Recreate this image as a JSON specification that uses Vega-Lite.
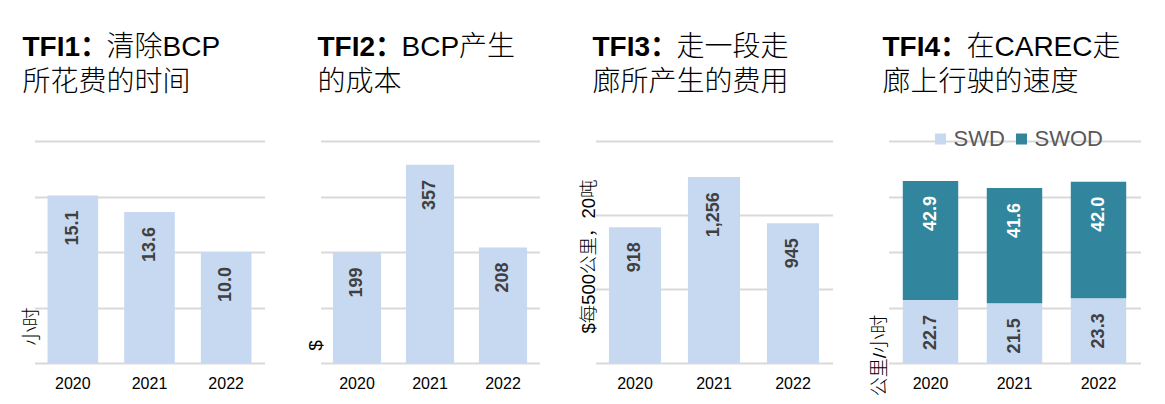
{
  "$schema": "https://vega.github.io/schema/vega-lite/v6.json",
  "background": "white",
  "padding": {"left": 22.5, "top": 34, "right": 0, "bottom": 0},
  "spacing": 56,
  "bounds": "flush",
  "config": {
    "view": {"stroke": null},
    "font": "Liberation Sans, Noto Sans CJK SC",
    "axisX": {"title": null, "labelAngle": 0, "labelFontSize": 16, "labelColor": "#000000", "domain": false, "ticks": false, "labelPadding": 12, "grid": false, "labelFont": "Liberation Sans"},
    "axisY": {"labels": false, "ticks": false, "domain": false, "grid": true, "gridColor": "#d9d9d9", "gridWidth": 2, "titleAngle": -90, "titleAlign": "center", "titleBaseline": "middle", "titleFontSize": 19, "titleFontWeight": 300, "titleColor": "#000000"},
    "title": {"anchor": "start", "frame": "group", "fontSize": 28, "fontWeight": "bold", "color": "#000000", "subtitleFontSize": 28, "subtitleFontWeight": 300, "subtitleColor": "#000000", "subtitlePadding": -28, "subtitleLineHeight": 35, "offset": 44},
    "text": {"font": "Liberation Sans"}
  },
  "hconcat": [
    {
      "width": 230, "height": 222,
      "title": {"text": "TFI1：", "subtitle": ["\u200b　　　清除BCP", "所花费的时间"], "dx": -12},
      "data": {"values": [
        {"year": "2020", "value": 15.1},
        {"year": "2021", "value": 13.6},
        {"year": "2022", "value": 10.0}
      ]},
      "encoding": {
        "x": {"field": "year", "type": "ordinal", "scale": {"paddingInner": 0.34, "paddingOuter": 0.17}},
        "y": {"field": "value", "type": "quantitative", "scale": {"domain": [0, 20], "nice": false}, "axis": {"title": "小时", "values": [0, 5, 10, 15, 20], "titleX": -3, "titleY": 185}}
      },
      "layer": [
        {"mark": {"type": "bar", "color": "#C6D9F0"}},
        {"mark": {"type": "text", "angle": -90, "align": "right", "baseline": "middle", "dx": -15, "fontWeight": "bold", "fontSize": 18, "color": "#404040"},
         "encoding": {"text": {"field": "value", "type": "quantitative", "format": ".1f"}}}
      ]
    },
    {
      "width": 219, "height": 222,
      "title": {"text": "TFI2：", "subtitle": ["\u200b　　　BCP产生", "的成本"], "dx": -3},
      "data": {"values": [
        {"year": "2020", "value": 199},
        {"year": "2021", "value": 357},
        {"year": "2022", "value": 208}
      ]},
      "encoding": {
        "x": {"field": "year", "type": "ordinal", "scale": {"paddingInner": 0.34, "paddingOuter": 0.17}},
        "y": {"field": "value", "type": "quantitative", "scale": {"domain": [0, 400], "nice": false}, "axis": {"title": "$", "values": [0, 100, 200, 300, 400], "titleX": -5, "titleY": 204}}
      },
      "layer": [
        {"mark": {"type": "bar", "color": "#C6D9F0"}},
        {"mark": {"type": "text", "angle": -90, "align": "right", "baseline": "middle", "dx": -15, "fontWeight": "bold", "fontSize": 18, "color": "#404040"},
         "encoding": {"text": {"field": "value", "type": "quantitative", "format": "d"}}}
      ]
    },
    {
      "width": 237, "height": 222,
      "title": {"text": "TFI3：", "subtitle": ["\u200b　　　走一段走", "廊所产生的费用"], "dx": -3},
      "data": {"values": [
        {"year": "2020", "value": 918},
        {"year": "2021", "value": 1256},
        {"year": "2022", "value": 945}
      ]},
      "encoding": {
        "x": {"field": "year", "type": "ordinal", "scale": {"paddingInner": 0.34, "paddingOuter": 0.17}},
        "y": {"field": "value", "type": "quantitative", "scale": {"domain": [0, 1500], "nice": false}, "axis": {"title": "$每500公里，20吨", "values": [0, 500, 1000, 1500], "titleX": -7, "titleY": 115, "titleFontSize": 18.5}}
      },
      "layer": [
        {"mark": {"type": "bar", "color": "#C6D9F0"}},
        {"mark": {"type": "text", "angle": -90, "align": "right", "baseline": "middle", "dx": -15, "fontWeight": "bold", "fontSize": 18, "color": "#404040"},
         "encoding": {"text": {"field": "value", "type": "quantitative", "format": ",d"}}}
      ]
    },
    {
      "width": 252, "height": 222,
      "title": {"text": "TFI4：", "subtitle": ["\u200b　　　在CAREC走", "廊上行驶的速度"], "dx": -6},
      "data": {"values": [
        {"year": "2020", "series": "SWD", "value": 22.7},
        {"year": "2020", "series": "SWOD", "value": 42.9},
        {"year": "2021", "series": "SWD", "value": 21.5},
        {"year": "2021", "series": "SWOD", "value": 41.6},
        {"year": "2022", "series": "SWD", "value": 23.3},
        {"year": "2022", "series": "SWOD", "value": 42.0}
      ]},
      "encoding": {
        "x": {"field": "year", "type": "ordinal", "scale": {"paddingInner": 0.34, "paddingOuter": 0.17}}
      },
      "layer": [
        {"mark": {"type": "bar"},
         "encoding": {
           "y": {"field": "value", "type": "quantitative", "stack": "zero", "scale": {"domain": [0, 80], "nice": false}, "axis": {"title": "公里/小时", "values": [0, 20, 40, 60, 80], "titleX": -9, "titleY": 214}},
           "order": {"field": "series", "sort": "ascending"},
           "color": {"field": "series", "type": "nominal", "scale": {"domain": ["SWD", "SWOD"], "range": ["#C6D9F0", "#31859C"]},
             "legend": {"orient": "none", "legendX": 895, "legendY": -13, "direction": "horizontal", "title": null, "symbolType": "square", "symbolSize": 121, "symbolStrokeWidth": 0, "labelFontSize": 22, "labelColor": "#595959", "labelFont": "Liberation Sans", "columnPadding": 5, "labelOffset": 2}}
         }},
        {"mark": {"type": "text", "angle": -90, "align": "right", "baseline": "middle", "dx": -15, "fontWeight": "bold", "fontSize": 18},
         "encoding": {
           "y": {"field": "value", "type": "quantitative", "stack": "zero"},
           "order": {"field": "series", "sort": "ascending"},
           "detail": {"field": "series"},
           "color": {"condition": {"test": "datum.series === 'SWOD'", "value": "#ffffff"}, "value": "#404040"},
           "text": {"field": "value", "type": "quantitative", "format": ".1f"}
         }}
      ]
    }
  ]
}
